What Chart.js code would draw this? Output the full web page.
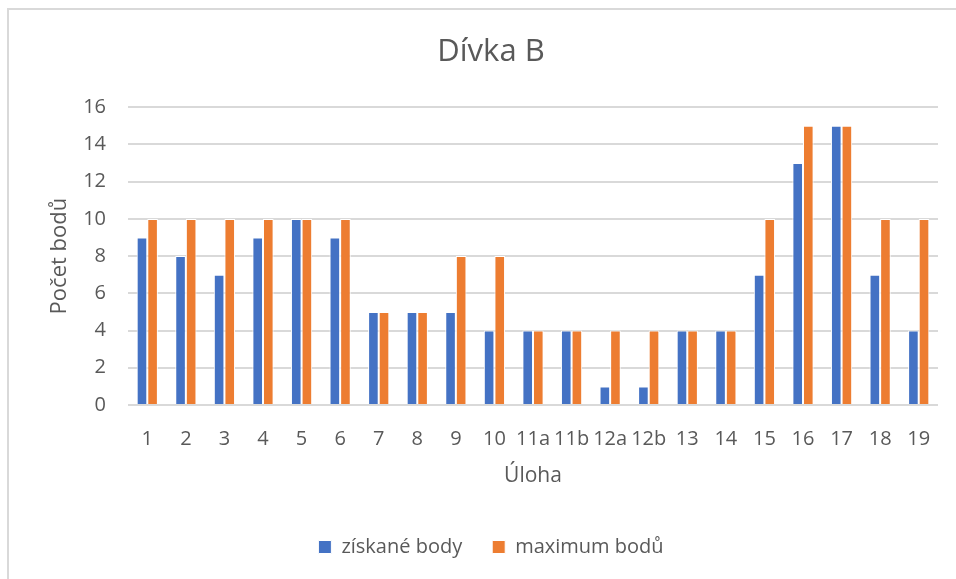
<!DOCTYPE html>
<html>
<head>
<meta charset="utf-8">
<script src="https://cdn.jsdelivr.net/npm/chart.js@4/dist/chart.umd.min.js"></script>
<style>
  html, body { margin: 0; padding: 0; background: #fff; overflow: hidden; }
  #frame { position: absolute; left: 7px; top: 8px; width: 1200px; height: 800px; border: 2px solid #d9d9d9; box-sizing: border-box; }
  #wrap { position: absolute; left: 0; top: 0; width: 956px; height: 579px; }
</style>
</head>
<body>
<div id="frame"></div>
<div id="wrap"><canvas id="chart"></canvas></div>
<script>
const tasks = ['1', '2', '3', '4', '5', '6', '7', '8', '9', '10', '11a', '11b', '12a', '12b', '13', '14', '15', '16', '17', '18', '19'];
const gained = [9, 8, 7, 9, 10, 9, 5, 5, 5, 4, 4, 4, 1, 1, 4, 4, 7, 13, 15, 7, 4];
const maxPoints = [10, 10, 10, 10, 10, 10, 5, 5, 8, 8, 4, 4, 4, 4, 4, 4, 10, 15, 15, 10, 10];

const textColor = '#595959';
const fontFamily = '"Open Sans", "Noto Sans", sans-serif';

new Chart(document.getElementById('chart'), {
    type: 'bar',
    data: {
        labels: tasks,
        datasets: [
            { label: 'získané body', data: gained, backgroundColor: '#4472C4', borderColor: '#fff', borderWidth: 1 },
            { label: 'maximum bodů', data: maxPoints, backgroundColor: '#ED7D31', borderColor: '#fff', borderWidth: 1 }
        ]
    },
    options: {
        responsive: true,
        maintainAspectRatio: false,
        animation: false,
        datasets: { bar: { categoryPercentage: 0.55, barPercentage: 1 } },
        // extra left padding pushes the legend to the right, like the original
        layout: { padding: { left: 44, right: 18, top: 0, bottom: 12 } },
        plugins: {
            title: {
                display: true,
                text: 'Dívka B',
                color: textColor,
                font: { family: fontFamily, size: 31, weight: 'normal' },
                padding: { top: 34, bottom: 36 }
            },
            legend: {
                position: 'bottom',
                labels: {
                    color: textColor,
                    font: { family: fontFamily, size: 20 },
                    boxWidth: 13,
                    boxHeight: 13,
                    padding: 30
                }
            },
            tooltip: { enabled: false }
        },
        scales: {
            x: {
                grid: { display: false, drawTicks: false },
                border: { display: false },
                ticks: { color: textColor, font: { family: fontFamily, size: 20 }, padding: 22, maxRotation: 0, autoSkip: false },
                title: { display: true, text: 'Úloha', color: textColor, font: { family: fontFamily, size: 21 }, padding: { top: 0, bottom: 18 } },
                afterFit: scale => { scale.height = 102; }
            },
            y: {
                min: 0,
                max: 16,
                ticks: { stepSize: 2, color: textColor, font: { family: fontFamily, size: 20 }, padding: 22 },
                grid: { color: '#d9d9d9', lineWidth: 2, drawTicks: false },
                border: { display: false },
                title: { display: true, text: 'Počet bodů', color: textColor, font: { family: fontFamily, size: 22 }, padding: { top: 3, bottom: 0 } },
                afterFit: scale => { scale.width = 84; }
            }
        }
    }
});
</script>
</body>
</html>
